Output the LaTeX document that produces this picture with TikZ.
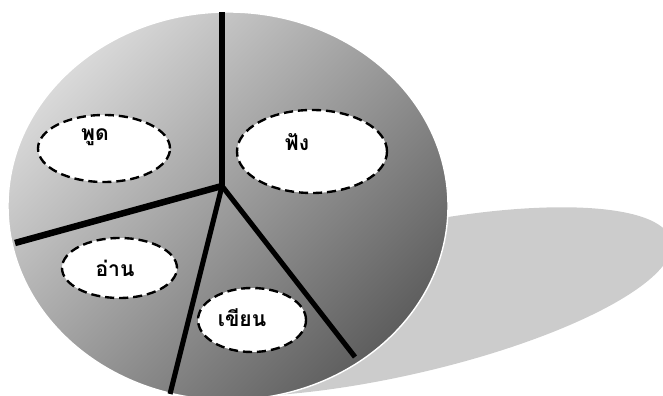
\documentclass[tikz,border=0pt]{standalone}
\usepackage{fontspec}
\newfontfamily\thaifont[Script=Thai]{Loma}
\usetikzlibrary{shapes.geometric}
\definecolor{discLight}{HTML}{D9D9D9}
\definecolor{discDark}{HTML}{5E5E5E}
\definecolor{shadowGray}{HTML}{CCCCCC}

\begin{document}
\begin{tikzpicture}[every node/.style={font=\thaifont\bfseries\fontsize{12}{14}\selectfont},
	bubble/.style={ellipse, draw, dashed, dash pattern=on 5.2pt off 2.8pt, line width=1.35pt, fill=white, inner sep=0pt},
	spoke/.style={line width=2.9pt}]
	\useasboundingbox (0,0) rectangle (13.26,7.92);
	% shadow and disc
	\fill[shadowGray, rotate around={12.6:(7.94,1.88)}] (7.94,1.88) ellipse (5.62 and 1.48);
	\shade[top color=discLight, bottom color=discDark, shading angle=45, draw=white, line width=0.8pt] (4.56,3.80) ellipse (4.40 and 3.88);
	% spokes
	\coordinate (hub) at (4.44,4.20);
	\coordinate (rimTop) at (4.44,7.68);
	\coordinate (rimLeft) at (0.30,3.06);
	\coordinate (rimLow) at (3.40,0.04);
	\coordinate (rimRight) at (7.10,0.78);
	\draw[spoke] (hub) -- (rimTop);
	\draw[spoke, line width=3.7pt] (hub) -- (rimLeft);
	\draw[spoke] (hub) -- (rimLow);
	\draw[spoke] (hub) -- (rimRight);
	% bubbles
	\node[bubble, minimum width=2.64cm, minimum height=1.34cm] (speak) at (2.08,4.95) {};
	\node[bubble, minimum width=3.00cm, minimum height=1.66cm] (listen) at (6.24,4.89) {};
	\node[bubble, minimum width=2.30cm, minimum height=1.20cm] (read) at (2.39,2.56) {};
	\node[bubble, minimum width=2.16cm, minimum height=1.28cm] (write) at (5.04,1.52) {};
	\node (speakText) at ([shift={(-0.18,0.23)}]speak.center) {พูด};
	\node (listenText) at ([shift={(-0.30,0.19)}]listen.center) {ฟัง};
	\node (readText) at ([shift={(-0.09,0)}]read.center) {อ่าน};
	\node (writeText) at ([shift={(-0.20,0.04)}]write.center) {เขียน};
\end{tikzpicture}
\end{document}
